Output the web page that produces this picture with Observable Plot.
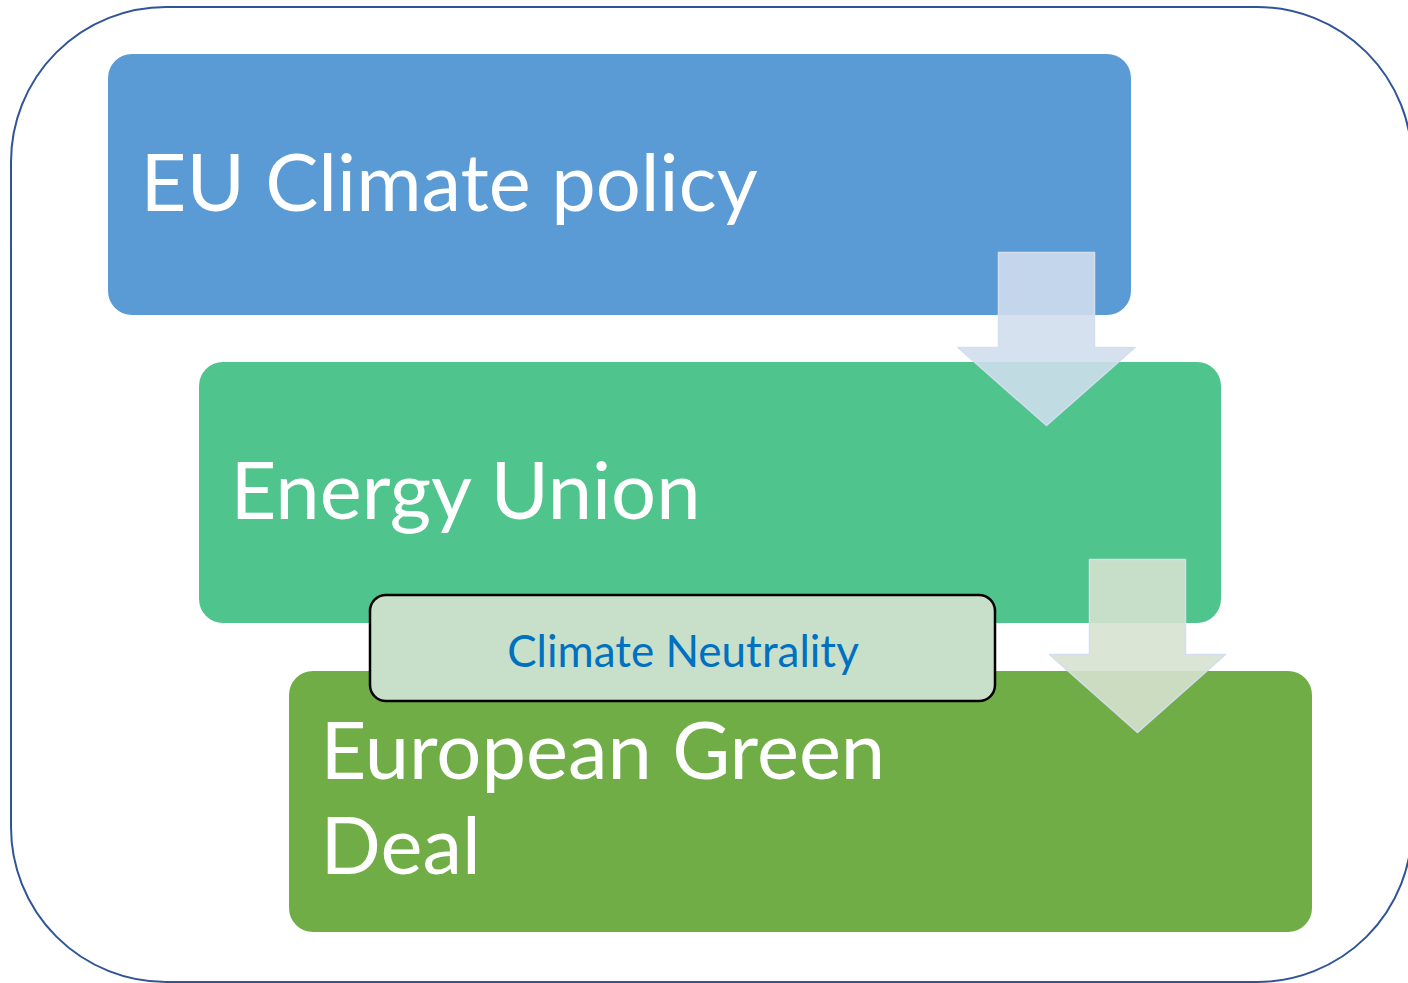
<!DOCTYPE html>
<html>
<head>
<meta charset="utf-8">
<script src="https://cdn.jsdelivr.net/npm/d3@7"></script>
<script src="https://cdn.jsdelivr.net/npm/@observablehq/plot@0.6"></script>
<style>
  html, body { margin: 0; padding: 0; background: #fff; overflow: hidden; }
  #chart svg { display: block; }
</style>
</head>
<body>
<div id="chart"></div>
<script>
// Diagram stages (top to bottom)
const stageLabels = ["EU Climate policy", "Energy Union", "European Green\nDeal"];
const stageLeft   = [108, 199, 289];
const stageRight  = [1131, 1221, 1312];
const stageTop    = [54, 362, 671];
const stageBottom = [315, 623, 932];
const stageColors = ["#5B9BD5", "#4FC48D", "#70AD47"];
const labelX      = [140, 230, 320];
const labelBase   = [210, 518, 873];

// Down arrows between stages
const arrowIds     = ["a1", "a2"];
const arrowCenter  = [1046, 1137];
const arrowTop     = [252, 559];
const arrowNeck    = [347, 654];
const arrowTip     = [425, 732];
const arrowShaftW  = [96, 96];
const arrowHeadW   = [177, 176];
const arrowFills   = ["rgb(208,221,237)", "rgb(214,226,208)"];

// Overlay badge
const badgeLabel = ["Climate Neutrality"];
const badgeBox = {x1: 370, x2: 995, y1: 595, y2: 701};

// Outer frame
const frameBox = {x1: 11, x2: 1412, y1: 7, y2: 982};

const stages = stageLabels.map((label, i) => ({
  label, x1: stageLeft[i], x2: stageRight[i], y1: stageTop[i], y2: stageBottom[i],
  color: stageColors[i], tx: labelX[i], ty: labelBase[i]
}));

const arrowPts = [];
arrowIds.forEach((id, i) => {
  const c = arrowCenter[i], s = arrowShaftW[i] / 2, h = arrowHeadW[i] / 2;
  const pts = [
    [c - s, arrowTop[i]], [c + s, arrowTop[i]], [c + s, arrowNeck[i]], [c + h, arrowNeck[i]],
    [c, arrowTip[i]], [c - h, arrowNeck[i]], [c - s, arrowNeck[i]]
  ];
  pts.forEach(([x, y]) => arrowPts.push({id, x, y, fill: arrowFills[i]}));
});

const chart = Plot.plot({
  width: 1408,
  height: 983,
  margin: 0,
  x: {domain: [0, 1408], range: [0, 1408], axis: null},
  y: {domain: [0, 983], range: [0, 983], axis: null},
  style: {background: "white", overflow: "hidden"},
  marks: [
    Plot.rect([frameBox], {x1: "x1", x2: "x2", y1: "y1", y2: "y2", rx: 155, fill: "white", stroke: "#2F5597", strokeWidth: 2}),
    Plot.rect(stages, {x1: "x1", x2: "x2", y1: "y1", y2: "y2", rx: 24, fill: "color"}),
    Plot.text(stages, {x: "tx", y: "ty", text: "label", textAnchor: "start", lineAnchor: "bottom",
      fill: "white", fontSize: 79.5, fontFamily: "Lato", lineHeight: 95 / 79.5}),
    Plot.line(arrowPts, {x: "x", y: "y", z: "id", curve: "linear-closed", fill: "fill", fillOpacity: 0.89,
      stroke: "#D3DEEF", strokeWidth: 1.5}),
    Plot.rect([badgeBox], {x1: "x1", x2: "x2", y1: "y1", y2: "y2", rx: 16, fill: "#C8E0CA", stroke: "black", strokeWidth: 2.5}),
    Plot.text(badgeLabel, {x: (badgeBox.x1 + badgeBox.x2) / 2, y: 666, text: d => d, textAnchor: "middle",
      lineAnchor: "bottom", fill: "#0070C0", fontSize: 44, fontFamily: "Lato"})
  ]
});
document.getElementById("chart").appendChild(chart);
</script>
</body>
</html>
